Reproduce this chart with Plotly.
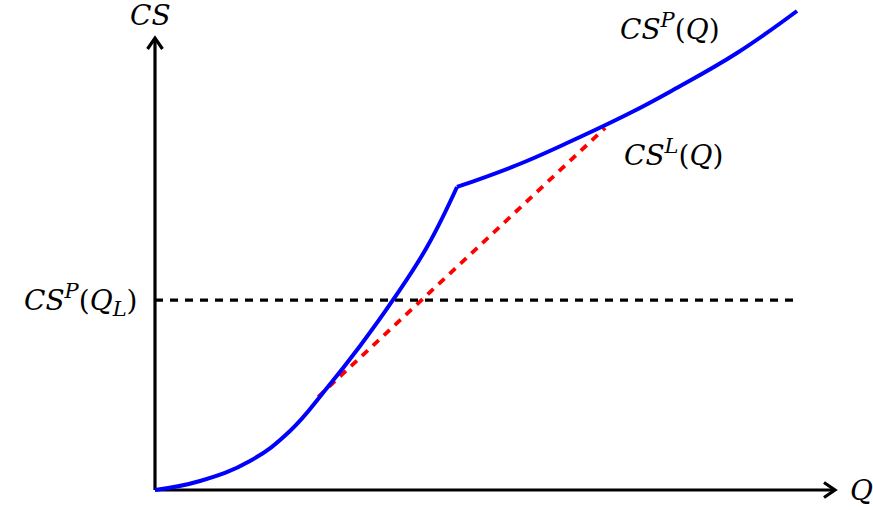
import plotly.graph_objects as go

# Consumer surplus under the pricing scheme, rising part up to the kink
q_convex = [0.0, 0.662, 1.397, 1.985, 2.529, 3.015, 3.500, 4.000, 4.441]
cs_convex = [0.0, 0.199, 0.642, 1.305, 2.257, 3.186, 4.204, 5.376, 6.704]

# ... and beyond the kink
q_upper = [4.441, 5.324, 6.059, 6.985, 7.618, 8.559, 9.441]
cs_upper = [6.704, 7.190, 7.677, 8.341, 8.850, 9.668, 10.597]

# Linear-pricing surplus segment
q_linear = [2.40, 6.62]
cs_linear = [2.06, 8.01]

# Reference level CS^P(Q_L)
cs_level = 4.20
q_level_end = 9.44

# Axis extents
q_axis_max = 10.0
cs_axis_max = 10.0

# pixel geometry of the canvas
W, H = 873, 510
ox, oy = 155, 490
sx, sy = 68.0, 45.2

blue = "#0000FF"
red = "#FF0000"
font_family = "DejaVu Serif"
axis_w = 3.2

fig = go.Figure()

# axes lines
fig.add_trace(go.Scatter(x=[0, q_axis_max], y=[0, 0], mode="lines",
                         line=dict(color="black", width=axis_w), hoverinfo="skip"))
fig.add_trace(go.Scatter(x=[0, 0], y=[0, cs_axis_max], mode="lines",
                         line=dict(color="black", width=axis_w), hoverinfo="skip"))

# open chevron arrow tips (sizes in pixels converted to data units)
back, half = 11.0, 7.5
fig.add_trace(go.Scatter(
    x=[q_axis_max - back / sx, q_axis_max, q_axis_max - back / sx],
    y=[half / sy, 0, -half / sy], mode="lines",
    line=dict(color="black", width=axis_w), hoverinfo="skip"))
fig.add_trace(go.Scatter(
    x=[-half / sx, 0, half / sx],
    y=[cs_axis_max - back / sy, cs_axis_max, cs_axis_max - back / sy], mode="lines",
    line=dict(color="black", width=axis_w), hoverinfo="skip"))

# linear segment (dotted red)
fig.add_trace(go.Scatter(x=q_linear, y=cs_linear, mode="lines",
                         line=dict(color=red, width=3.8, dash="8px,7px"),
                         hoverinfo="skip"))

# horizontal reference level
fig.add_trace(go.Scatter(x=[0, q_level_end], y=[cs_level, cs_level], mode="lines",
                         line=dict(color="black", width=axis_w, dash="8px,7px"),
                         hoverinfo="skip"))

# CS^P(Q) curve: two smooth pieces joined at the kink
fig.add_trace(go.Scatter(x=q_convex, y=cs_convex, mode="lines",
                         line=dict(color=blue, width=4, shape="spline", smoothing=1.2),
                         hoverinfo="skip"))
fig.add_trace(go.Scatter(x=q_upper, y=cs_upper, mode="lines",
                         line=dict(color=blue, width=4, shape="spline", smoothing=1.2),
                         hoverinfo="skip"))

fs = 28
small = '<span style="font-size:21px">'


def label(text, x, y, xanchor="center", yanchor="middle"):
    fig.add_annotation(x=x, y=y, xref="x", yref="y", text=text, showarrow=False,
                       xanchor=xanchor, yanchor=yanchor,
                       font=dict(family=font_family, size=fs, color="black"))


label("<i>CS</i>", -0.07, 10.5)
label("<i>Q</i>", 10.19, 0, xanchor="left")
label(f"<i>CS</i><sup>{small}<i>P</i></span></sup>(<i>Q</i>"
      f"<sub>{small}<i>L</i></span></sub>)", -0.22, cs_level, xanchor="right")
label(f"<i>CS</i><sup>{small}<i>P</i></span></sup>(<i>Q</i>)", 6.81, 10.25,
      xanchor="left")
label(f"<i>CS</i><sup>{small}<i>L</i></span></sup>(<i>Q</i>)", 6.87, 7.45,
      xanchor="left")

fig.update_layout(
    width=W, height=H,
    margin=dict(l=0, r=0, t=0, b=0),
    paper_bgcolor="white", plot_bgcolor="white",
    showlegend=False,
    xaxis=dict(visible=False, range=[-ox / sx, (W - ox) / sx], fixedrange=True),
    yaxis=dict(visible=False, range=[-(H - oy) / sy, oy / sy], fixedrange=True),
)

fig.write_html("out.html")
